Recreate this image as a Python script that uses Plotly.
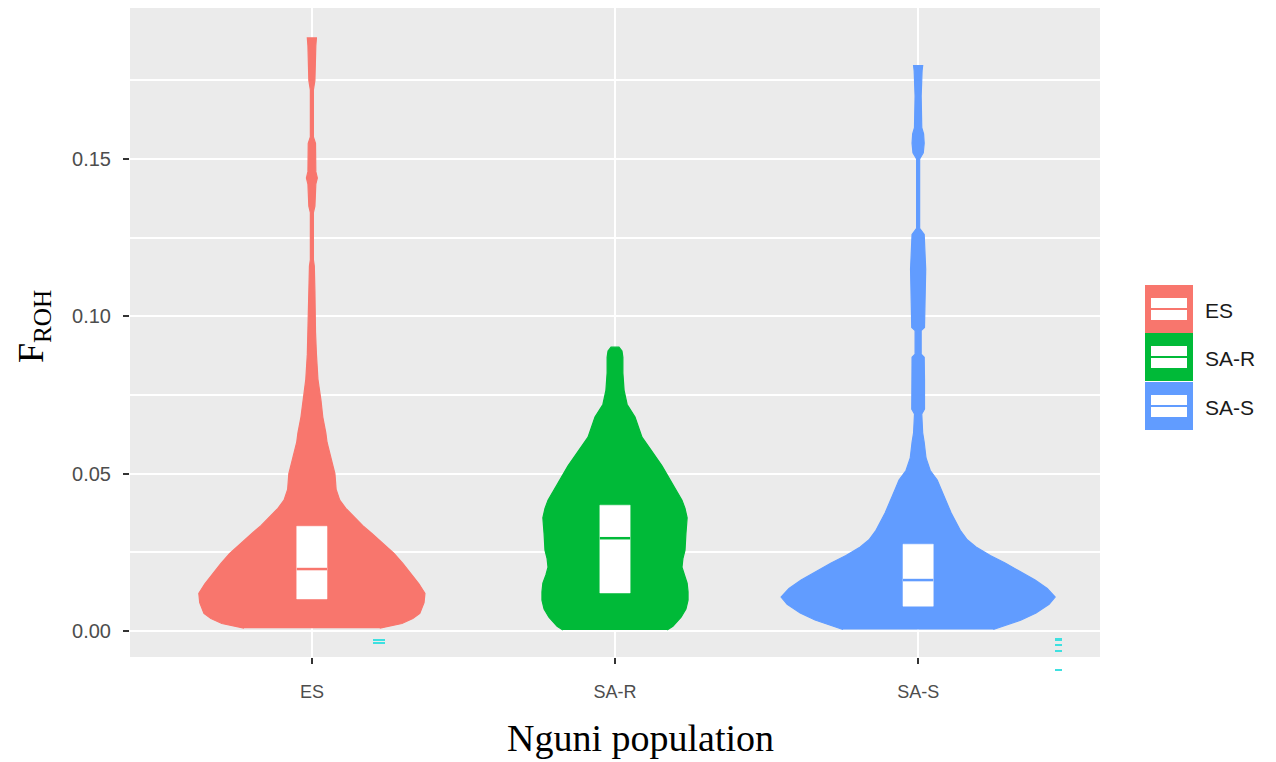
import plotly.graph_objects as go

# ---------------- data ----------------
groups = ["ES", "SA-R", "SA-S"]
colors = ["#F8766D", "#00BA38", "#619CFF"]
positions = [1, 2, 3]

# violin outline: F_ROH level and half-width (in category units)
es_y = [0.0009, 0.0024, 0.0040, 0.0056, 0.009, 0.012, 0.015, 0.0183, 0.0215, 0.0247,
        0.028, 0.031, 0.0335, 0.0363, 0.039, 0.0416, 0.045, 0.050, 0.055, 0.060,
        0.063, 0.068, 0.0733, 0.080, 0.088, 0.095, 0.108, 0.116, 0.118,
        0.133, 0.135, 0.142, 0.144, 0.146, 0.155, 0.157, 0.172, 0.175, 0.186, 0.1885]
es_w = [0.224, 0.297, 0.333, 0.356, 0.370, 0.373, 0.353, 0.327, 0.300, 0.271,
        0.234, 0.198, 0.168, 0.139, 0.112, 0.092, 0.080, 0.076, 0.063, 0.050,
        0.046, 0.036, 0.030, 0.020, 0.015, 0.012, 0.010, 0.008, 0.005,
        0.005, 0.010, 0.013, 0.018, 0.013, 0.012, 0.005, 0.005, 0.010, 0.013, 0.015]

sar_y = [0.0003, 0.0015, 0.0044, 0.007, 0.0098, 0.0125, 0.0152, 0.0178, 0.0203, 0.023,
         0.0257, 0.031, 0.036, 0.039, 0.0416, 0.047, 0.0525, 0.0575, 0.0616, 0.068,
         0.072, 0.0765, 0.082, 0.087, 0.089, 0.0902]
sar_w = [0.172, 0.191, 0.218, 0.234, 0.241, 0.241, 0.238, 0.228, 0.221, 0.224,
         0.231, 0.234, 0.238, 0.231, 0.221, 0.188, 0.155, 0.119, 0.089, 0.066,
         0.040, 0.030, 0.026, 0.026, 0.023, 0.013]

sas_y = [0.0005, 0.0013, 0.0035, 0.0057, 0.0085, 0.0108, 0.0135, 0.0162, 0.019, 0.0216,
         0.024, 0.0267, 0.029, 0.032, 0.0375, 0.0416, 0.045, 0.048, 0.051, 0.055,
         0.060, 0.063, 0.069, 0.0705, 0.080, 0.087, 0.088, 0.0955,
         0.0965, 0.105, 0.115, 0.126, 0.128, 0.150, 0.152, 0.155, 0.158, 0.160, 0.170,
         0.178, 0.1797]
sas_w = [0.248, 0.274, 0.340, 0.389, 0.432, 0.452, 0.426, 0.386, 0.337, 0.287,
         0.238, 0.191, 0.162, 0.139, 0.109, 0.092, 0.076, 0.063, 0.040, 0.026,
         0.020, 0.015, 0.012, 0.021, 0.021, 0.020, 0.010, 0.010,
         0.021, 0.023, 0.025, 0.020, 0.005, 0.005, 0.017, 0.020, 0.018, 0.012, 0.010,
         0.013, 0.015]

violin_y = [es_y, sar_y, sas_y]
violin_w = [es_w, sar_w, sas_w]

# box plot summaries
q1 = [0.0102, 0.0121, 0.0079]
median = [0.0197, 0.0295, 0.0162]
q3 = [0.0333, 0.0400, 0.0276]

y_ticks = [0.00, 0.05, 0.10, 0.15]
y_tick_labels = ["0.00", "0.05", "0.10", "0.15"]

x_title = "Nguni population"
y_title = "F<sub>ROH</sub>"

BOX_HALF = 0.05  # ggplot boxplot width 0.1

# ---------------- figure ----------------
fig = go.Figure()

for g, c, p, ys, ws in zip(groups, colors, positions, violin_y, violin_w):
    xs = [p + w for w in ws] + [p - w for w in reversed(ws)]
    yy = list(ys) + list(reversed(ys))
    fig.add_trace(go.Scatter(x=xs, y=yy, mode="lines", fill="toself",
                             fillcolor=c, line=dict(color=c, width=1.2),
                             name=g, showlegend=False, hoverinfo="skip"))

for g, c, p, a, m, b in zip(groups, colors, positions, q1, median, q3):
    fig.add_trace(go.Scatter(x=[p - BOX_HALF, p + BOX_HALF, p + BOX_HALF, p - BOX_HALF, p - BOX_HALF],
                             y=[a, a, b, b, a], mode="lines", fill="toself",
                             fillcolor="white", line=dict(color="white", width=0.5),
                             showlegend=False, hoverinfo="skip"))
    fig.add_trace(go.Scatter(x=[p - BOX_HALF, p + BOX_HALF], y=[m, m], mode="lines",
                             line=dict(color=c, width=2.5), showlegend=False,
                             hoverinfo="skip"))

# screen pixel helpers (panel spans x 130..1100, y 8..657 on the page)
px2x = lambda px: (px - 130) / 970
px2y = lambda py: (657 - py) / 649

# custom ggplot-like legend
key_left, key_w = 1145, 48
key_tops = [285, 333, 382]
shapes = []
annotations = []
for g, c, top in zip(groups, colors, key_tops):
    shapes.append(dict(type="rect", xref="paper", yref="paper",
                       x0=px2x(key_left), x1=px2x(key_left + key_w),
                       y0=px2y(top + key_w), y1=px2y(top), fillcolor=c,
                       line=dict(width=0), layer="above"))
    shapes.append(dict(type="rect", xref="paper", yref="paper",
                       x0=px2x(key_left + 6), x1=px2x(key_left + 42),
                       y0=px2y(top + 35), y1=px2y(top + 13), fillcolor="white",
                       line=dict(width=0), layer="above"))
    shapes.append(dict(type="line", xref="paper", yref="paper",
                       x0=px2x(key_left + 6), x1=px2x(key_left + 42),
                       y0=px2y(top + 24), y1=px2y(top + 24),
                       line=dict(color=c, width=2), layer="above"))
    annotations.append(dict(xref="paper", yref="paper", x=px2x(key_left + 58),
                            y=px2y(top + 25), text=g, showarrow=False, xanchor="left",
                            yanchor="middle",
                            font=dict(family="Liberation Sans, Arial", size=21,
                                      color="#1a1a1a")))

# axis titles
annotations.append(dict(xref="paper", yref="paper", x=px2x(640), y=px2y(738),
                        text=x_title, showarrow=False, xanchor="center", yanchor="middle",
                        font=dict(family="Liberation Serif, Times New Roman", size=38,
                                  color="black")))
annotations.append(dict(xref="paper", yref="paper", x=px2x(33), y=px2y(327),
                        text=y_title, showarrow=False, xanchor="center", yanchor="middle",
                        textangle=-90,
                        font=dict(family="Liberation Serif, Times New Roman", size=36,
                                  color="black")))

# small cyan marks seen near the x axis
for (x0, x1, y0, y1) in [(373, 385, 639, 641), (373, 385, 642, 644),
                         (1055, 1062, 638, 641), (1055, 1062, 644, 646),
                         (1055, 1062, 650, 652), (1055, 1062, 669, 671)]:
    shapes.append(dict(type="rect", xref="paper", yref="paper",
                       x0=px2x(x0), x1=px2x(x1), y0=px2y(y1), y1=px2y(y0),
                       fillcolor="#3ee0e0", line=dict(width=0), layer="above"))

fig.update_layout(
    width=1276, height=762,
    margin=dict(l=122, r=184, t=0, b=113),
    paper_bgcolor="white", plot_bgcolor="#EBEBEB",
    showlegend=False,
    shapes=shapes, annotations=annotations,
    xaxis=dict(range=[0.4, 3.6], tickvals=positions, ticktext=groups,
               showgrid=True, gridcolor="white", gridwidth=2, zeroline=False,
               ticks="outside", ticklen=6, tickcolor="#333333", tickwidth=1.5,
               ticklabelstandoff=12, automargin=False,
               tickfont=dict(family="Liberation Sans, Arial", size=18, color="#4D4D4D")),
    yaxis=dict(range=[-0.00825, 0.198], tickvals=y_ticks, ticktext=y_tick_labels,
               showgrid=True, gridcolor="white", gridwidth=2, zeroline=False,
               ticks="outside", ticklen=6, tickcolor="#333333", tickwidth=1.5,
               ticklabelstandoff=8, automargin=False,
               tickfont=dict(family="Liberation Sans, Arial", size=20, color="#4D4D4D"),
               minor=dict(tick0=0, dtick=0.025, showgrid=True, gridcolor="white",
                          gridwidth=1.5, ticks="")),
)

fig.write_html("out.html")
